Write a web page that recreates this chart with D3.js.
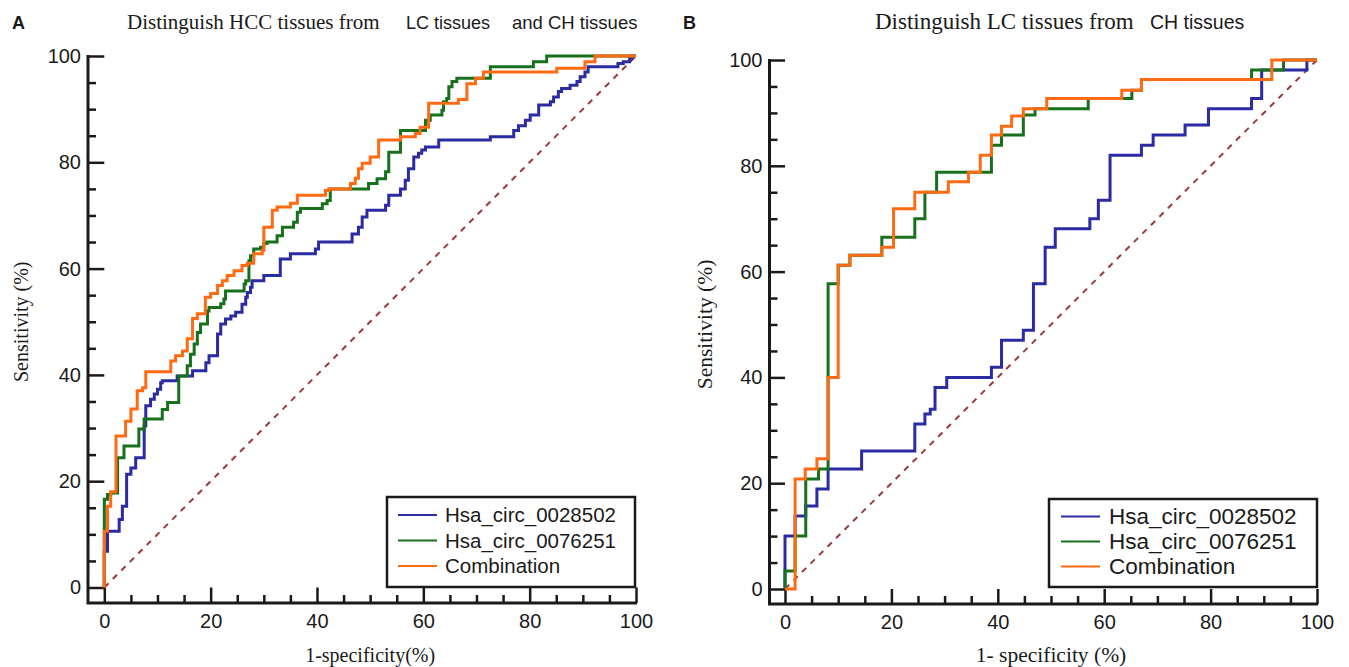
<!DOCTYPE html>
<html>
<head>
<meta charset="utf-8">
<script src="https://cdn.jsdelivr.net/npm/d3@7"></script>
<style>
    body { margin: 0; background: #fff; }
    svg text { fill: #1a1a1a; }
</style>
</head>
<body>
<div id="chart"></div>
<script>
const seriesNames = ["Hsa_circ_0028502", "Hsa_circ_0076251", "Combination"];
const seriesColors = ["#2b2ba3", "#17701b", "#ff6a13"];
const majorTicks = [0, 20, 40, 60, 80, 100];

// Panel A - HCC vs LC + CH. Each point is [1-specificity, sensitivity], drawn as step-after
const hcc0028502 = [[0,0],[0,6.8],[0.6,10.6],[2.8,12.8],[3.4,15.3],[4.2,21.3],[5,22.5],[5.9,24.4],[7.5,30.4],[7.8,34.2],
    [8.7,35.4],[9.4,36.4],[10,37.3],[10.6,38.5],[10.9,38.9],[13.7,39.8],[16.6,40.8],[19.1,42.3],[19.7,43.6],[21.3,47.7],
    [21.9,49.6],[22.8,50.5],[23.8,51.1],[24.7,51.8],[25.9,53.3],[26.6,54.6],[26.9,55.5],[27.5,56.5],[27.8,57.7],[30,58.7],
    [33.1,61.8],[35,62.8],[39.7,63.7],[40.3,65],[46.6,66.5],[47.8,67.8],[48.5,69.7],[49.4,71],[52.9,71.9],[53.5,73.8],
    [55.7,75],[56.6,76.6],[57.2,78.8],[58.2,81],[59.1,81.7],[59.7,82.3],[60.4,82.9],[62.9,84.2],[72.6,84.8],[77,86],
    [77.9,86.9],[79.2,87.9],[80.1,88.9],[81.7,90.8],[83.9,91.4],[84.5,92.3],[85.4,93.3],[86,93.9],[87.6,94.5],[88.9,95.2],
    [89.5,96.1],[90.4,97],[91,98],[96.6,98.6],[97.6,98.9],[98.8,99.6],[99.2,100],[100,100]];
const hcc0076251 = [[0,0],[0,16.6],[0.6,17.5],[1.2,17.8],[2.5,24.4],[3.7,26.6],[6.5,29.8],[7.5,31.7],[10.9,33.5],[11.9,34.8],
    [14,39.8],[15.6,41.7],[16.2,43.9],[16.9,45.8],[17.5,48],[18.1,49.6],[19.4,52],[19.7,52.7],[21.9,53.4],[22.5,54.3],
    [22.8,55.8],[26.3,57.1],[26.6,57.7],[27.2,61.5],[27.5,62.4],[28.1,63.7],[29.4,64],[30,64.7],[30.6,65],[32.5,66.2],
    [33.5,67.8],[35.6,68.7],[36.3,70.6],[36.9,71.3],[41,72.2],[41.9,72.8],[42.5,75],[49.7,76],[51.3,76.9],[52.9,78.2],
    [53.5,81.9],[55.7,86],[60.4,87.9],[61.3,88.9],[63.5,89.8],[63.8,91.4],[64.4,92],[64.8,94.2],[65.4,95.2],[66.3,95.8],
    [72.6,98],[80.7,98.9],[83.2,100],[100,100]];
const hccCombination = [[0,0],[0,10.6],[0.6,15.3],[1.2,18],[2.2,28.5],[4,31.3],[5,33.6],[6.2,37],[7.2,37.6],[7.8,40.6],
    [12.5,42.6],[13.4,43.6],[14.7,44.5],[15.6,46.8],[16.6,50.6],[17.5,51.5],[19,54.6],[20,55.3],[21.3,56.8],[22.2,57.7],
    [23.1,58.7],[24.4,59.6],[25.9,60.6],[26.9,61],[28.1,62.8],[29.7,63.4],[30,67.8],[31.6,71],[32.5,71.6],[35,72.3],
    [36.3,73.8],[41.6,74.7],[42.2,75],[46.3,76],[47.2,77],[47.8,78.8],[48.5,79.8],[50,81],[51.6,84.2],[55.7,84.8],
    [58.5,85.4],[59.4,86.6],[61,91.1],[66.6,91.8],[68.2,94.8],[69.8,95.8],[71.3,97],[85.1,97.7],[90.4,98.9],[92.3,100],[100,100]];

// Panel B - LC vs CH
const lc0028502 = [[0,0],[0,10],[1.9,13.8],[3.9,15.7],[6,18.9],[8.1,22.7],[14.4,26.1],[24.4,31.2],[26.3,33.1],[27.3,34],
    [28.2,38.1],[30.4,40],[38.8,41.9],[40.7,47],[44.8,48.9],[46.7,57.7],[48.9,64.6],[50.8,68.1],[57.3,70],[58.9,73.5],
    [61.1,82],[67,83.9],[69.2,85.8],[75.2,87.7],[79.6,90.8],[87.7,92.7],[89.6,98.1],[98.1,100],[100,100]];
const lc0076251 = [[0,0],[0,3.4],[1.9,10],[3.9,20.8],[6.3,22.7],[8.1,57.7],[10,61.2],[12.2,63.1],[18.2,66.5],[24.4,70],
    [26.3,75],[28.5,78.8],[38.8,83.9],[40.7,85.8],[44.8,89.6],[47,90.8],[57,92.7],[65.2,94.3],[67,96.3],[87.7,98.1],
    [93.7,100],[100,100]];
const lcCombination = [[0,0],[1.9,20.8],[3.8,22.7],[6,24.6],[8.1,40],[10,61.2],[12.2,63.1],[18.2,64.6],[20.4,71.9],[24.4,75],
    [30.7,77],[34.5,78.8],[36.7,82],[38.8,85.8],[40.7,87.5],[42.6,89.4],[44.8,90.8],[49.2,92.7],[63.3,94.3],[67,96.3],
    [91.5,100],[100,100]];

const width = 1349, height = 667;
const serif = "'Liberation Serif', 'Times New Roman', serif";
const sans = "'Liberation Sans', Arial, sans-serif";

const svg = d3.select("#chart").append("svg")
    .attr("width", width)
    .attr("height", height);

function drawPanel(cfg) {
    const g = svg.append("g");

    const x = d3.scaleLinear().domain([0, 100]).range([cfg.x0, cfg.x1]);
    const y = d3.scaleLinear().domain([0, 100]).range([cfg.y0, cfg.y1]);
    const minor = d3.range(0, 101, 5).filter(d => d % 20 !== 0);

    // axes are offset from the data area, ticks point inward
    const yAxis = g.append("g").attr("transform", `translate(${cfg.axisX},0)`);
    yAxis.call(d3.axisLeft(y).tickValues(majorTicks).tickSize(-(cfg.x0 - cfg.axisX)).tickPadding(7));
    yAxis.append("g").call(d3.axisLeft(y).tickValues(minor).tickSize(-8).tickFormat(""));

    const xAxis = g.append("g").attr("transform", `translate(0,${cfg.axisY})`);
    xAxis.call(d3.axisBottom(x).tickValues(majorTicks).tickSize(-(cfg.axisY - cfg.y0)).tickPadding(11));
    xAxis.append("g").call(d3.axisBottom(x).tickValues(minor).tickSize(-8).tickFormat(""));

    g.selectAll(".domain").remove();
    g.selectAll(".tick line").attr("stroke", "#1a1a1a").attr("stroke-width", 2.5);
    g.selectAll(".tick text").style("font-family", sans).style("font-size", "20px").attr("fill", "#1a1a1a");

    // axis lines meet at the corner
    g.append("path")
        .attr("d", `M${cfg.axisX},${y(100) - 1}V${cfg.axisY}H${x(100) + 1}`)
        .attr("fill", "none")
        .attr("stroke", "#1a1a1a")
        .attr("stroke-width", 3);

    // chance line
    g.append("line")
        .attr("x1", x(0)).attr("y1", y(0))
        .attr("x2", x(100)).attr("y2", y(100))
        .attr("stroke", "#9c3a3e")
        .attr("stroke-width", 2)
        .attr("stroke-dasharray", "6,6");

    const line = d3.line()
        .x(d => x(d[0]))
        .y(d => y(d[1]))
        .curve(d3.curveStepAfter);

    g.selectAll("path.roc")
        .data(cfg.series)
        .join("path")
        .attr("class", "roc")
        .attr("d", line)
        .attr("fill", "none")
        .attr("stroke", (d, i) => seriesColors[i])
        .attr("stroke-width", 3);

    // axis titles
    g.append("text")
        .attr("x", (x(0) + x(100)) / 2)
        .attr("y", 662)
        .attr("text-anchor", "middle")
        .style("font-family", serif)
        .style("font-size", cfg.titleSize + "px")
        .text(cfg.xLabel);

    g.append("text")
        .attr("transform", `translate(${cfg.yLabelX},${(y(0) + y(100)) / 2}) rotate(-90)`)
        .attr("text-anchor", "middle")
        .style("font-family", serif)
        .style("font-size", cfg.titleSize + "px")
        .text("Sensitivity (%)");

    // panel letter
    g.append("text")
        .attr("x", cfg.letterX)
        .attr("y", 29)
        .style("font-family", sans)
        .style("font-weight", "bold")
        .style("font-size", "18px")
        .text(cfg.letter);

    // title: serif part then sans parts
    const title = g.append("text").attr("y", 29);
    cfg.title.forEach(part => {
        title.append("tspan")
            .attr("x", part.x)
            .style("font-family", part.serif ? serif : sans)
            .style("font-size", part.size + "px")
            .text(part.text);
    });

    // legend
    const lg = g.append("g").attr("transform", `translate(${cfg.legend.x},${cfg.legend.y})`);
    lg.append("rect")
        .attr("width", cfg.legend.w)
        .attr("height", cfg.legend.h)
        .attr("fill", "#fff")
        .attr("stroke", "#1a1a1a")
        .attr("stroke-width", 2.5);

    const rows = lg.selectAll("g.row")
        .data(seriesNames)
        .join("g")
        .attr("class", "row")
        .attr("transform", (d, i) => `translate(0,${cfg.legend.top + i * cfg.legend.step})`);

    rows.append("line")
        .attr("x1", cfg.legend.lineX)
        .attr("x2", cfg.legend.lineX + cfg.legend.lineW)
        .attr("stroke", (d, i) => seriesColors[i])
        .attr("stroke-width", 2);

    rows.append("text")
        .attr("x", cfg.legend.textX)
        .attr("dy", "0.35em")
        .style("font-family", sans)
        .style("font-size", cfg.legend.font + "px")
        .text(d => d);
}

drawPanel({
    letter: "A", letterX: 12,
    axisX: 88, axisY: 603, x0: 104.3, x1: 636, y0: 587.5, y1: 56,
    series: [hcc0028502, hcc0076251, hccCombination],
    xLabel: "1-specificity(%)", yLabelX: 28, titleSize: 20,
    title: [
        { text: "Distinguish HCC tissues from", x: 127, serif: true, size: 21 },
        { text: "LC tissues", x: 406, size: 18 },
        { text: "and CH tissues", x: 512, size: 18.5 }
    ],
    legend: { x: 387, y: 497, w: 248, h: 90, top: 18, step: 25.5, lineX: 11, lineW: 39, textX: 58, font: 20.5 }
});

drawPanel({
    letter: "B", letterX: 683,
    axisX: 769.5, axisY: 604, x0: 785, x1: 1317, y0: 589, y1: 60,
    series: [lc0028502, lc0076251, lcCombination],
    xLabel: "1- specificity (%)", yLabelX: 712, titleSize: 21.5,
    title: [
        { text: "Distinguish LC tissues from", x: 875, serif: true, size: 23 },
        { text: "CH tissues", x: 1150, size: 19.5 }
    ],
    legend: { x: 1049, y: 499, w: 268, h: 88, top: 17.5, step: 25, lineX: 12, lineW: 39, textX: 60, font: 22.5 }
});
</script>
</body>
</html>
